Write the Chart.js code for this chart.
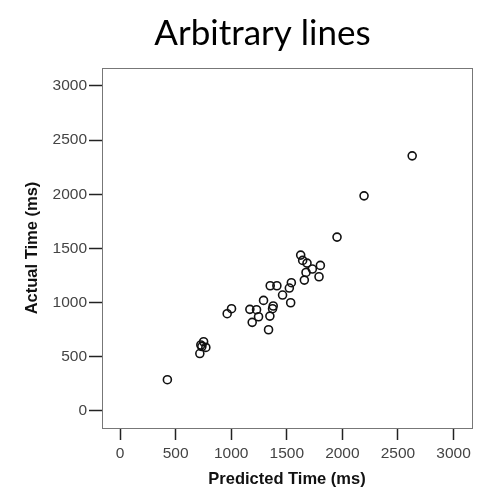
<!DOCTYPE html>
<html>
<head>
<meta charset="utf-8">
<script src="https://cdn.jsdelivr.net/npm/chart.js@4/dist/chart.umd.min.js"></script>
<style>
  html, body { margin: 0; padding: 0; background: #ffffff; }
  #wrap { width: 485px; height: 491px; position: relative; }
</style>
</head>
<body>
<div id="wrap"><canvas id="c" width="485" height="491"></canvas></div>
<script>
const chartTitle = 'Arbitrary lines';
const xAxisTitle = 'Predicted Time (ms)';
const yAxisTitle = 'Actual Time (ms)';
const tickValues = [0, 500, 1000, 1500, 2000, 2500, 3000];
const predictedTime = [2628, 2195, 1952, 1625, 1643, 1682, 1730, 1802, 1673, 1658, 1790,
  1351, 1411, 1541, 1523, 1462, 1535, 1291, 1378, 1372, 1168, 1228, 1246, 1189, 1348,
  1336, 1003, 964, 752, 727, 772, 736, 718, 426];
const actualTime = [2355, 1986, 1605, 1439, 1390, 1365, 1310, 1344, 1279, 1208, 1239,
  1156, 1156, 1184, 1135, 1070, 999, 1021, 969, 944, 938, 935, 870, 818, 876,
  750, 944, 898, 639, 609, 587, 595, 530, 289];

const points = predictedTime.map((x, i) => ({ x: x, y: actualTime[i] }));

const boxPlugin = {
  id: 'box',
  afterLayout(chart) {
    const tb = chart.titleBlock;
    if (tb) { tb.left = 40; tb.right = 485; }
  },
  beforeDatasetsDraw(chart) {
    const a = chart.chartArea;
    const ctx = chart.ctx;
    ctx.save();
    ctx.strokeStyle = '#777777';
    ctx.lineWidth = 1;
    ctx.strokeRect(Math.round(a.left) + 0.5, Math.round(a.top) + 0.5,
      Math.round(a.right - a.left), Math.round(a.bottom - a.top));
    ctx.restore();
  }
};

const tickFont = { family: '"Liberation Sans", Arial, sans-serif', size: 15.5 };
const axisTitleFont = { family: '"Liberation Sans", Arial, sans-serif', size: 16.5, weight: 'bold', lineHeight: 1.2 };
const plainNumber = (v) => String(v);

new Chart(document.getElementById('c'), {
  type: 'scatter',
  data: {
    datasets: [{
      data: points,
      pointStyle: 'circle',
      pointRadius: 4,
      pointBorderWidth: 1.6,
      pointBorderColor: '#111111',
      pointBackgroundColor: 'rgba(0,0,0,0)',
      pointHoverRadius: 4
    }]
  },
  options: {
    responsive: false,
    animation: false,
    events: [],
    layout: { padding: { left: 0, right: 13, top: 0, bottom: 0 } },
    plugins: {
      legend: { display: false },
      tooltip: { enabled: false },
      title: {
        display: true,
        text: chartTitle,
        color: '#000000',
        font: { family: 'Lato, "Open Sans", sans-serif', size: 35, weight: 'normal', lineHeight: 1 },
        padding: { top: 16, bottom: 17 }
      }
    },
    scales: {
      x: {
        type: 'linear',
        min: -162,
        max: 3166,
        afterFit(scale) { scale.height = 63; },
        afterBuildTicks(scale) { scale.ticks = tickValues.map(v => ({ value: v })); },
        grid: { drawOnChartArea: false, drawTicks: true, tickLength: 12, color: '#222222', tickWidth: 1.5 },
        border: { display: true, color: '#777777', width: 1 },
        ticks: { color: '#444444', font: tickFont, padding: 4, maxRotation: 0, autoSkip: false, callback: plainNumber },
        title: { display: true, text: xAxisTitle, color: '#111111', font: axisTitleFont, padding: { top: 0, bottom: 2 } }
      },
      y: {
        type: 'linear',
        min: -157,
        max: 3166,
        afterFit(scale) { scale.width = 102; },
        afterBuildTicks(scale) { scale.ticks = tickValues.map(v => ({ value: v })); },
        grid: { drawOnChartArea: false, drawTicks: true, tickLength: 13, color: '#222222', tickWidth: 1.5 },
        border: { display: true, color: '#777777', width: 1 },
        ticks: { color: '#444444', font: tickFont, padding: 2, autoSkip: false, callback: plainNumber },
        title: { display: true, text: yAxisTitle, color: '#111111', font: axisTitleFont, padding: { top: 23, bottom: 0 } }
      }
    }
  },
  plugins: [boxPlugin]
});
</script>
</body>
</html>
